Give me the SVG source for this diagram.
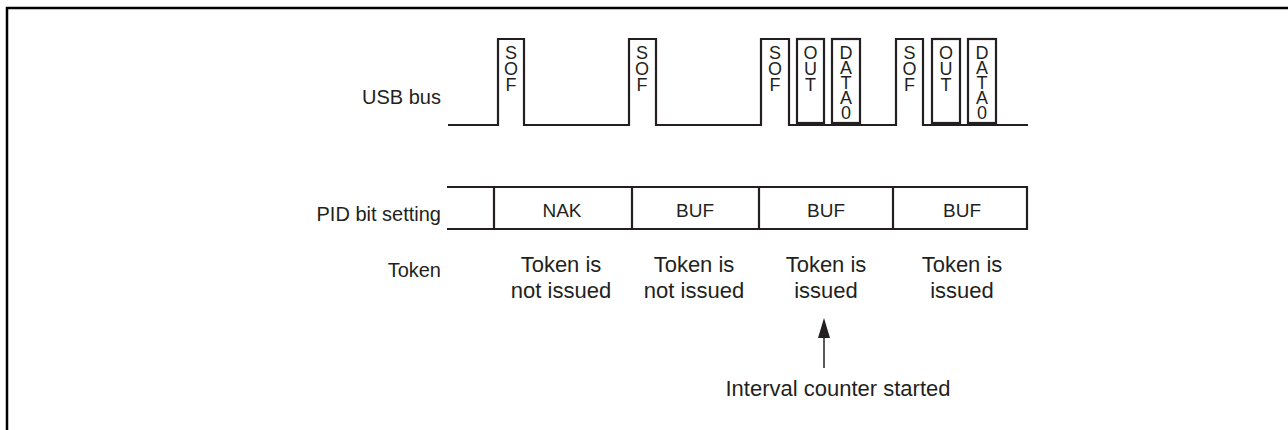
<svg xmlns="http://www.w3.org/2000/svg" width="1288" height="430" viewBox="0 0 1288 430">
<style>
.w{fill:none;stroke:#231f20;stroke-width:2.2}
.lbl{font-family:"Liberation Sans",Arial,sans-serif;font-size:20px;fill:#231f20;text-anchor:end}
.pk{font-family:"Liberation Sans",Arial,sans-serif;font-size:18px;fill:#231f20;text-anchor:middle}
.cell{font-family:"Liberation Sans",Arial,sans-serif;font-size:19px;fill:#231f20;text-anchor:middle}
.tok{font-family:"Liberation Sans",Arial,sans-serif;font-size:22px;fill:#231f20;text-anchor:middle}
</style>
<rect x="7" y="8" width="1300" height="440" fill="none" stroke="#000" stroke-width="2.5"/>
<g id="labels">
<text class="lbl" x="441" y="104">USB bus</text>
<text class="lbl" x="441" y="221">PID bit setting</text>
<text class="lbl" x="441" y="277">Token</text>
</g>
<g id="usb-bus">
<path class="w" d="M448 125 H498 V39 H524 V125 H629 V39 H656 V125 H761 V39 H789 V125 H896 V39 H923 V125 H1028"/>
<rect class="w" x="797" y="39" width="27" height="84"/>
<rect class="w" x="832" y="39" width="28" height="84"/>
<rect class="w" x="932" y="39" width="28" height="84"/>
<rect class="w" x="968" y="39" width="28" height="84"/>
<text class="pk"><tspan x="511" y="59">S</tspan><tspan x="511" y="75">O</tspan><tspan x="511" y="91">F</tspan></text>
<text class="pk"><tspan x="642" y="59">S</tspan><tspan x="642" y="75">O</tspan><tspan x="642" y="91">F</tspan></text>
<text class="pk"><tspan x="775" y="59">S</tspan><tspan x="775" y="75">O</tspan><tspan x="775" y="91">F</tspan></text>
<text class="pk"><tspan x="810.5" y="59">O</tspan><tspan x="810.5" y="75">U</tspan><tspan x="810.5" y="91">T</tspan></text>
<text class="pk"><tspan x="846" y="59">D</tspan><tspan x="846" y="74">A</tspan><tspan x="846" y="89">T</tspan><tspan x="846" y="104">A</tspan><tspan x="846" y="119">0</tspan></text>
<text class="pk"><tspan x="909.5" y="59">S</tspan><tspan x="909.5" y="75">O</tspan><tspan x="909.5" y="91">F</tspan></text>
<text class="pk"><tspan x="946" y="59">O</tspan><tspan x="946" y="75">U</tspan><tspan x="946" y="91">T</tspan></text>
<text class="pk"><tspan x="982" y="59">D</tspan><tspan x="982" y="74">A</tspan><tspan x="982" y="89">T</tspan><tspan x="982" y="104">A</tspan><tspan x="982" y="119">0</tspan></text>
</g>
<g id="pid-row">
<path class="w" d="M447 187 H1027 V229 H447 M494 187 V229 M632 187 V229 M759 187 V229 M893 187 V229"/>
<text class="cell" x="562" y="217">NAK</text>
<text class="cell" x="695" y="217">BUF</text>
<text class="cell" x="826" y="217">BUF</text>
<text class="cell" x="962" y="217">BUF</text>
</g>
<g id="tokens">
<text class="tok"><tspan x="561" y="272">Token is</tspan><tspan x="561" y="298">not issued</tspan></text>
<text class="tok"><tspan x="694" y="272">Token is</tspan><tspan x="694" y="298">not issued</tspan></text>
<text class="tok"><tspan x="826" y="272">Token is</tspan><tspan x="826" y="298">issued</tspan></text>
<text class="tok"><tspan x="962" y="272">Token is</tspan><tspan x="962" y="298">issued</tspan></text>
</g>
<g id="connectors">
<line x1="824" y1="368" x2="824" y2="336" stroke="#231f20" stroke-width="1.5"/>
<polygon points="824,318 818,338 830,338" fill="#231f20"/>
</g>
<g id="note">
<text class="tok" x="838" y="396">Interval counter started</text>
</g>
</svg>
